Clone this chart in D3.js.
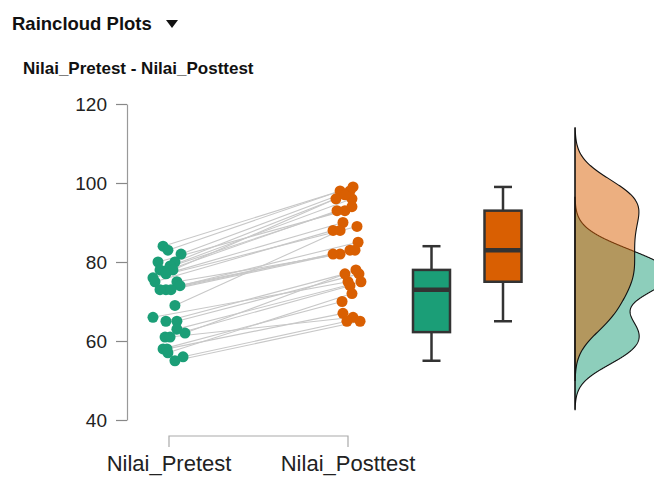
<!DOCTYPE html>
<html>
<head>
<meta charset="utf-8">
<style>
  body { margin: 0; background: #fff; font-family: "Liberation Sans", Arial, sans-serif; }
</style>
<title>Raincloud Plots</title>
</head>
<body>
<script src="https://cdn.jsdelivr.net/npm/d3@7"></script>
<script>

// paired scores, one entry per student (pre[i] -> post[i])
var groups = ["Nilai_Pretest", "Nilai_Posttest"];
var preValues  = [84, 83, 82, 80, 80, 79, 78, 78, 78, 77, 76, 75, 75, 74, 73, 73, 73,
                  69, 66, 65, 65, 63, 62, 61, 61, 58, 58, 57, 56, 55];
var postValues = [99, 98, 98, 93, 96, 96, 94, 93, 97, 90, 89, 88, 82, 85, 83, 83, 82,
                  88, 75, 77, 77, 75, 78, 74, 66, 70, 67, 72, 65, 65];
// horizontal jitter of each dot, -1..1
var preJitter  = [-0.33, -0.06, 0.67, -0.61, 0.33, 0.06, -0.5, -0.06, 0.22, -0.17, -0.89, -0.78, 0.44, 0.61, -0.17, 0.11, -0.5,
                  0.33, -0.89, -0.17, 0.44, 0.44, 0.89, -0.22, 0.06, -0.33, -0.11, -0.06, 0.78, 0.33];
var postJitter = [0.28, -0.44, 0.11, -0.17, -0.67, 0.22, 0.22, -0.61, -0.17, -0.28, 0.5, -0.83, -0.44, 0.56, 0.11, 0.39, -0.83,
                  -0.44, 0, -0.17, 0.61, 0.72, 0.44, 0.11, 0.28, -0.33, -0.28, 0.22, -0.06, 0.67];
var yTicks = [40, 60, 80, 100, 120];
var colors = ["#1b9e77", "#d95f02"];

var width = 654, height = 477;
var svg = d3.select("body").append("svg")
  .attr("width", width)
  .attr("height", height);

// header
svg.append("text").attr("x", 12).attr("y", 30)
  .attr("font-size", 18.5).attr("font-weight", "bold").attr("fill", "#111")
  .text("Raincloud Plots");
svg.append("path").attr("d", "M166,20 L178,20 L172,28 Z").attr("fill", "#111");
svg.append("text").attr("x", 23).attr("y", 74)
  .attr("font-size", 17).attr("font-weight", "bold").attr("fill", "#111")
  .text("Nilai_Pretest - Nilai_Posttest");

var y = d3.scaleLinear().domain([40, 120]).range([420, 104]);
var x = d3.scalePoint().domain(groups).range([169, 348]);
var jit = d3.scaleLinear().domain([-1, 1]).range([-18, 18]);
var boxX = d3.scalePoint().domain(groups).range([431.5, 503]);
var densBase = 575;

// y axis
var yAxis = svg.append("g").attr("transform", "translate(127,0)")
  .call(d3.axisLeft(y).tickValues(yTicks).tickSize(11).tickSizeOuter(0).tickPadding(9));
yAxis.select(".domain").attr("stroke", "#999").attr("stroke-width", 1.2);
yAxis.selectAll(".tick line").attr("stroke", "#888").attr("stroke-width", 1.2);
yAxis.selectAll(".tick text").attr("font-size", 19).attr("fill", "#222")
  .attr("font-family", "Liberation Sans, Arial, sans-serif");

// x bracket
svg.append("path")
  .attr("d", "M" + x(groups[0]) + ",447V436H" + x(groups[1]) + "V447")
  .attr("fill", "none").attr("stroke", "#aaa").attr("stroke-width", 1.2);
svg.selectAll("text.xlab").data(groups).enter().append("text")
  .attr("class", "xlab")
  .attr("x", function(d) { return x(d); })
  .attr("y", 471)
  .attr("text-anchor", "middle")
  .attr("font-size", 22).attr("fill", "#222")
  .text(function(d) { return d; });

// connecting lines
var pairs = preValues.map(function(v, i) {
  return { pre: v, post: postValues[i], jp: preJitter[i], jq: postJitter[i] };
});
svg.selectAll("line.pair").data(pairs).enter().append("line")
  .attr("class", "pair")
  .attr("x1", function(d) { return x(groups[0]) + jit(d.jp); })
  .attr("y1", function(d) { return y(d.pre); })
  .attr("x2", function(d) { return x(groups[1]) + jit(d.jq); })
  .attr("y2", function(d) { return y(d.post); })
  .attr("stroke", "#c8c8c8").attr("stroke-width", 1.1);

// dots
svg.selectAll("circle.pre").data(pairs).enter().append("circle")
  .attr("class", "pre")
  .attr("cx", function(d) { return x(groups[0]) + jit(d.jp); })
  .attr("cy", function(d) { return y(d.pre); })
  .attr("r", 5.5).attr("fill", colors[0]);
svg.selectAll("circle.post").data(pairs).enter().append("circle")
  .attr("class", "post")
  .attr("cx", function(d) { return x(groups[1]) + jit(d.jq); })
  .attr("cy", function(d) { return y(d.post); })
  .attr("r", 5.5).attr("fill", colors[1]);

// boxplots
var series = [preValues, postValues];
var boxW = 37, capW = 18;
series.forEach(function(vals, k) {
  var s = vals.slice().sort(d3.ascending);
  var q1 = d3.quantile(s, 0.25), med = d3.quantile(s, 0.5), q3 = d3.quantile(s, 0.75);
  var iqr = q3 - q1;
  var lo = d3.min(s.filter(function(v) { return v >= q1 - 1.5 * iqr; }));
  var hi = d3.max(s.filter(function(v) { return v <= q3 + 1.5 * iqr; }));
  var cx = boxX(groups[k]);
  var g = svg.append("g").attr("stroke", "#333").attr("stroke-width", 2.5);
  g.append("line").attr("x1", cx).attr("x2", cx).attr("y1", y(hi)).attr("y2", y(q3));
  g.append("line").attr("x1", cx).attr("x2", cx).attr("y1", y(q1)).attr("y2", y(lo));
  g.append("line").attr("x1", cx - capW / 2).attr("x2", cx + capW / 2).attr("y1", y(hi)).attr("y2", y(hi));
  g.append("line").attr("x1", cx - capW / 2).attr("x2", cx + capW / 2).attr("y1", y(lo)).attr("y2", y(lo));
  g.append("rect").attr("x", cx - boxW / 2).attr("width", boxW)
    .attr("y", y(q3)).attr("height", y(q1) - y(q3)).attr("fill", colors[k]);
  g.append("line").attr("x1", cx - boxW / 2).attr("x2", cx + boxW / 2)
    .attr("y1", y(med)).attr("y2", y(med)).attr("stroke-width", 4.5);
});

// densities (gaussian kernel, bw.nrd0, cut = 3)
function kde(vals) {
  var s = vals.slice().sort(d3.ascending);
  var n = s.length;
  var iqr = d3.quantile(s, 0.75) - d3.quantile(s, 0.25);
  var bw = 0.9 * Math.min(d3.deviation(s), iqr / 1.34) * Math.pow(n, -0.2);
  var lo = s[0] - 3 * bw, hi = s[n - 1] + 3 * bw;
  return d3.range(512).map(function(i) {
    var t = lo + (hi - lo) * i / 511;
    var dens = d3.mean(s, function(v) {
      var u = (t - v) / bw;
      return Math.exp(-0.5 * u * u) / Math.sqrt(2 * Math.PI);
    }) / bw;
    return [t, dens];
  });
}
var dens = series.map(kde);
var maxD = d3.max(dens, function(d) { return d3.max(d, function(p) { return p[1]; }); });
var dw = d3.scaleLinear().domain([0, maxD]).range([0, 95]);
var area = d3.area()
  .y(function(p) { return y(p[0]); })
  .x0(densBase)
  .x1(function(p) { return densBase + dw(p[1]); });
dens.forEach(function(d, k) {
  svg.append("path").datum(d).attr("d", area)
    .attr("fill", colors[k]).attr("fill-opacity", 0.5)
    .attr("stroke", "#111").attr("stroke-width", 1.1);
});
var allT = d3.merge(dens).map(function(p) { return p[0]; });
svg.append("line")
  .attr("x1", densBase).attr("x2", densBase)
  .attr("y1", y(d3.max(allT))).attr("y2", y(d3.min(allT)))
  .attr("stroke", "#111").attr("stroke-width", 1.1);

</script>
</body>
</html>
